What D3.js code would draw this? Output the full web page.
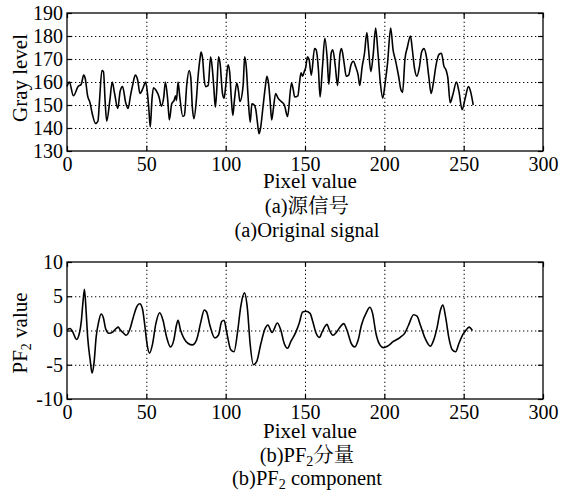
<!DOCTYPE html>
<html>
<head>
<meta charset="utf-8">
<script src="https://cdn.jsdelivr.net/npm/d3@7"></script>
<style>
  body { margin: 0; background: #fff; }
</style>
</head>
<body>
<div id="chart"></div>
<script>
// values: [pixel index, value]
const sourceSignal = [[0,158],[1.5,160],[4,154],[7,158],[9,159],[10.5,163],[11.5,161.5],[13,154],[14.5,151],[16,146],[18,142],[19.5,143],[20.5,152],[22,165],[23,164.5],[24,152],[25,143],[27,152],[28.5,160],[30,155],[32,148.5],[33.5,156],[35,158],[37,151],[38.5,148.5],[40,154],[41.5,159],[43,163],[44.5,161],[46,155],[48,157.5],[49.5,160],[50.5,156.5],[51.5,149],[52.5,140.5],[53.5,152],[54.5,157.5],[56,156.5],[58,153.5],[59.5,149.5],[61,153.5],[62,160],[63.5,152],[64.5,143.5],[66,150.5],[67.5,152],[68.5,154],[69,152],[70,160],[71,154],[73,145],[74,145.5],[75.5,159],[77,165],[78,162],[79,149],[80,144],[81.5,152],[82.5,161.5],[84,171],[84.5,173],[85.5,170],[86.5,161],[87.5,158],[89,158.5],[90.5,171],[91.5,166.5],[92.5,158],[93.5,149],[94.5,158],[95.5,171],[96.5,168],[98,155],[99,153],[100,158],[101.5,167.5],[102.5,164.5],[103.5,153.5],[104.5,145.5],[105.5,152],[107,159.5],[108,156.5],[109,151.5],[111,158.5],[112,171],[113,166.5],[114,155],[115.5,142.5],[116.5,150.5],[118,150],[119,148],[120,142.5],[121,137.5],[122,140],[123.5,149],[125,158],[126,162.5],[127,159.5],[128,152],[129,143.5],[130,148],[131.5,155],[133,153],[135,151.5],[137,150],[139,145],[141.5,159.5],[142.5,157],[143.5,153.5],[145.5,154],[146.5,159.5],[147.5,164],[148.5,162.5],[149.5,164.5],[150.5,166.5],[151.5,171],[152.5,170],[154,163],[156,174.5],[157,174],[158.5,165],[159.5,153.5],[161,166.5],[162.5,179],[164,170],[165,159],[166.5,172.5],[167.5,174],[169,167.5],[170.5,158.5],[172,172],[173,174.5],[174.5,169],[176,162.5],[177.5,163],[179,167.5],[180.5,169],[182,166.5],[183.5,163],[184.5,158.5],[186,166.5],[187.5,172.5],[189,181.5],[190,174.5],[191.5,164.5],[193,172],[194.5,183.5],[196,172.5],[197.5,159.5],[199,153],[200.5,159.5],[202,168],[204,183.5],[205.5,174],[207,169.5],[209,162.5],[210.5,156.5],[211.5,155.5],[213,170],[214.5,175],[216.5,180],[217.5,175],[219,166],[220.5,162.5],[222,166],[223.5,173],[225,174.5],[226.5,171],[228,162.5],[229.5,155],[231,160],[232.5,167],[234.5,172],[236,172.5],[237.5,167],[239,165],[240,162],[241.5,151],[243,154],[245.5,160],[247,156],[249,148],[251,153],[253,158],[254.5,155.5],[256,150]];

const pf2Component = [[0,0.1],[2,0.3],[3.6,-0.2],[6,-1.3],[7.8,-0.4],[9,1.3],[10,4],[11,6],[12,3],[13,-0.9],[14.6,-4.3],[15.8,-6.2],[17,-4.8],[18.4,-0.9],[20,1.3],[21.5,2.4],[23,1.8],[24.3,0.3],[26.4,-0.4],[29,-0.2],[31,0.3],[32.3,0.5],[33.5,0.1],[35.7,-0.4],[37.3,-0.7],[39.5,0.1],[41.6,1.8],[44,3.5],[45.8,3.9],[47.5,3.2],[49,0.8],[50.4,-1.9],[52,-3.3],[53.8,-2.1],[56,1],[58.4,2.6],[60.5,1.5],[62.7,-0.9],[65.2,-2.4],[67.3,-1.4],[69,0.8],[70,1.5],[71.5,0.1],[73.6,-1.1],[76.4,-1.9],[79,-2.1],[81.6,-1.4],[84.4,1.3],[86.5,3],[88,2.7],[90,0.8],[93.2,-1.1],[95.4,-0.7],[97.5,1.3],[99,1.5],[100.6,-0.2],[103.2,-2.8],[105.3,-3.1],[107.4,-0.4],[109.5,3.5],[111.8,5.5],[113.7,3.2],[115.4,-1.9],[117.5,-5],[119.6,-4.5],[122.2,-1.9],[124.9,0.3],[126.6,0.8],[129.2,-0.3],[132.6,1.1],[134.7,0.1],[136.9,-1.9],[139,-2.6],[141.1,-1.6],[144.3,-0.2],[146.4,1.1],[148.5,2.7],[150.6,2.8],[153.2,2.5],[154.9,1.3],[157,-0.4],[159.1,-1],[160.8,-0.2],[162.3,0.5],[163.8,0.9],[165.5,0],[167.6,-0.7],[169.7,-0.3],[171.8,0.4],[174.4,1],[176.5,0],[179.2,-1.9],[181.4,-2.4],[183.5,-1.4],[185.6,0.8],[188.8,2.7],[190.9,3.4],[192.6,2.5],[194.7,-0.4],[197.2,-2.1],[199.4,-2.5],[201.9,-2.3],[205.7,-1.6],[210,-1],[213.1,-0.3],[215.3,0.8],[218.4,2.3],[220.6,2.1],[222.7,0.8],[225.8,-1.2],[229,-2.3],[231.1,-1.4],[233.3,0.5],[235.4,3],[236.9,3.7],[238.6,2],[240.7,-1.1],[242.8,-2.8],[244.9,-3.1],[247,-1.9],[249.2,-0.7],[251.3,0],[253.4,0.5],[255.5,0]];

const xTicks = [0, 50, 100, 150, 200, 250, 300];
const grayTicks = [130, 140, 150, 160, 170, 180, 190];
const pfTicks = [-10, -5, 0, 5, 10];

const xTitle = "Pixel value";
const captionsA = ["(a)源信号", "(a)Original signal"];
const captionsB = ["(b)PF", "分量", "(b)PF", " component"];

const W = 562, H = 500;
const FONT = "'Liberation Serif', 'Times New Roman', 'Noto Serif CJK SC', 'Noto Sans CJK SC', serif";

let svg = d3.select("#chart").append("svg")
    .attr("width", W)
    .attr("height", H);

svg.append("rect").attr("width", W).attr("height", H).attr("fill", "#fff");

function drawPanel(p){
    let w = p.right - p.left, h = p.bottom - p.top;
    let g = svg.append("g").attr("transform", "translate(" + p.left + "," + p.top + ")");

    let x = d3.scaleLinear().domain([0, 300]).range([0, w]);
    let y = d3.scaleLinear().domain(d3.extent(p.yTicks)).range([h, 0]);

    //dotted grid, inner lines only
    let grid = g.append("g");
    grid.append("g")
        .attr("transform", "translate(0," + h + ")")
        .call(d3.axisBottom(x).tickValues(xTicks.slice(1, -1)).tickSize(-h).tickFormat(""));
    grid.append("g")
        .call(d3.axisLeft(y).tickValues(p.yTicks.slice(1, -1)).tickSize(-w).tickFormat(""));
    grid.selectAll(".domain").remove();
    grid.selectAll(".tick line")
        .attr("stroke", "#000")
        .attr("stroke-width", 1)
        .attr("stroke-dasharray", "1.3,2.7");

    //inward ticks on all four sides
    let tickLen = -5;
    let fmt = d => String(d);   // plain hyphen for negatives
    let ax = g.append("g");
    ax.append("g").attr("transform", "translate(0," + h + ")")
        .call(d3.axisBottom(x).tickValues(xTicks).tickSize(tickLen).tickPadding(6).tickFormat(fmt));
    ax.append("g").call(d3.axisTop(x).tickValues(xTicks).tickSize(tickLen).tickFormat(""));
    ax.append("g")
        .call(d3.axisLeft(y).tickValues(p.yTicks).tickSize(tickLen).tickPadding(4).tickFormat(fmt));
    ax.append("g").attr("transform", "translate(" + w + ",0)")
        .call(d3.axisRight(y).tickValues(p.yTicks).tickSize(tickLen).tickFormat(""));
    ax.selectAll(".domain").remove();
    ax.selectAll("g").attr("font-family", null).attr("font-size", null);
    ax.selectAll("text")
        .style("font-family", FONT)
        .style("font-size", "20px")
        .attr("fill", "#000");
    ax.selectAll(".tick line").attr("stroke", "#000").attr("stroke-width", 1.2);

    //the signal
    let line = d3.line()
        .x(d => x(d[0]))
        .y(d => y(d[1]))
        .curve(d3.curveMonotoneX);
    g.append("path")
        .datum(p.data)
        .attr("fill", "none")
        .attr("stroke", "#000")
        .attr("stroke-width", 1.6)
        .attr("stroke-linejoin", "round")
        .attr("d", line);

    //frame
    g.append("rect")
        .attr("width", w).attr("height", h)
        .attr("fill", "none")
        .attr("stroke", "#000")
        .attr("stroke-width", 1.3);

    //axis titles
    g.append("text")
        .attr("x", 310 - p.left)
        .attr("y", h + p.xTitleDy)
        .attr("text-anchor", "middle")
        .style("font-family", FONT)
        .style("font-size", "21px")
        .text(xTitle);

    let yt = g.append("text")
        .attr("transform", "translate(" + (27 - p.left) + "," + (p.yTitleY - p.top) + ") rotate(-90)")
        .attr("text-anchor", "middle")
        .style("font-family", FONT)
        .style("font-size", "21px");
    p.yTitle(yt);
    return g;
}

drawPanel({
    left: 67, right: 543, top: 13, bottom: 151,
    yTicks: grayTicks, data: sourceSignal,
    xTitleDy: 37, yTitleY: 78,
    yTitle: t => t.text("Gray level")
});

drawPanel({
    left: 67, right: 543, top: 262, bottom: 399,
    yTicks: pfTicks, data: pf2Component,
    xTitleDy: 39, yTitleY: 333,
    yTitle: t => {
        t.append("tspan").text("PF");
        t.append("tspan").attr("dy", 4).style("font-size", "14px").text("2");
        t.append("tspan").attr("dy", -4).text(" value");
    }
});

//captions under each panel
function caption(y, build){
    let t = svg.append("text")
        .attr("x", 307)
        .attr("y", y)
        .attr("text-anchor", "middle")
        .style("font-family", FONT)
        .style("font-size", "20.5px");
    build(t);
}

caption(213, t => t.text(captionsA[0]));
caption(237, t => t.text(captionsA[1]));
caption(462, t => {
    t.append("tspan").text(captionsB[0]);
    t.append("tspan").attr("dy", 4).style("font-size", "14px").text("2");
    t.append("tspan").attr("dy", -4).text(captionsB[1]);
});
caption(485, t => {
    t.append("tspan").text(captionsB[2]);
    t.append("tspan").attr("dy", 4).style("font-size", "14px").text("2");
    t.append("tspan").attr("dy", -4).text(captionsB[3]);
});
</script>
</body>
</html>
